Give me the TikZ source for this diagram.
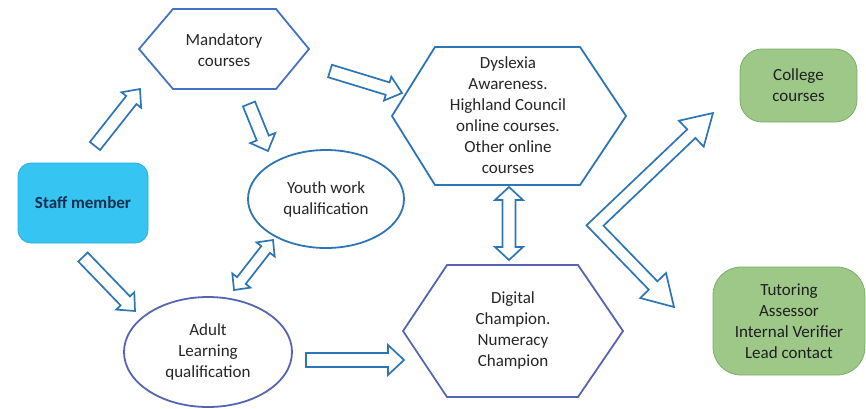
\documentclass[tikz,border=0pt]{standalone}
\usepackage{fontspec}
\setmainfont{Carlito}
\usetikzlibrary{calc,shapes.geometric}
\definecolor{txtc}{HTML}{262626}
\definecolor{navy}{HTML}{10304F}
\definecolor{skyfill}{HTML}{36C4F2}
\definecolor{skyline}{HTML}{2BAEDD}
\definecolor{arrblue}{HTML}{2E75B6}
\definecolor{hexblue}{HTML}{4472C4}
\definecolor{hexblueB}{HTML}{2E75B6}
\definecolor{purpblue}{HTML}{5565B0}
\definecolor{grfill}{HTML}{9DC888}
\definecolor{grline}{HTML}{7DAE68}
% block arrow: from, to, shaft half width, head half width, head length
\newcommand\blkarrow[5]{%
  \draw[blockarr] let \p1=(#1), \p2=(#2),
    \n1={atan2(\y2-\y1,\x2-\x1)}, \n2={veclen(\x2-\x1,\y2-\y1)} in
    ($(\p1)+({\n1+90}:#3)$) --
    ($(\p1)+(\n1:{\n2-#5})+({\n1+90}:#3)$) --
    ($(\p1)+(\n1:{\n2-#5})+({\n1+90}:#4)$) --
    (\p2) --
    ($(\p1)+(\n1:{\n2-#5})+({\n1-90}:#4)$) --
    ($(\p1)+(\n1:{\n2-#5})+({\n1-90}:#3)$) --
    ($(\p1)+({\n1-90}:#3)$) -- cycle;}
\newcommand\dblkarrow[5]{%
  \draw[blockarr] let \p1=(#1), \p2=(#2),
    \n1={atan2(\y2-\y1,\x2-\x1)}, \n2={veclen(\x2-\x1,\y2-\y1)} in
    (\p1) --
    ($(\p1)+(\n1:#5)+({\n1+90}:#4)$) --
    ($(\p1)+(\n1:#5)+({\n1+90}:#3)$) --
    ($(\p1)+(\n1:{\n2-#5})+({\n1+90}:#3)$) --
    ($(\p1)+(\n1:{\n2-#5})+({\n1+90}:#4)$) --
    (\p2) --
    ($(\p1)+(\n1:{\n2-#5})+({\n1-90}:#4)$) --
    ($(\p1)+(\n1:{\n2-#5})+({\n1-90}:#3)$) --
    ($(\p1)+(\n1:#5)+({\n1-90}:#3)$) --
    ($(\p1)+(\n1:#5)+({\n1-90}:#4)$) -- cycle;}
\begin{document}
\begin{tikzpicture}[x=1pt,y=1pt,
  lbl/.style={align=center, text=txtc, font=\fontsize{17}{21}\selectfont, inner sep=0pt},
  hexM/.style={draw=hexblue, line width=1.8pt, fill=white, line join=miter},
  hexD/.style={draw=hexblueB, line width=1.8pt, fill=white, line join=miter},
  hexC/.style={draw=purpblue, line width=1.8pt, fill=white, line join=miter},
  blockarr/.style={draw=arrblue, line width=1.7pt, fill=white, line join=miter},
  staffbox/.style={draw=skyline, line width=0.8pt, fill=skyfill, rounded corners=13pt,
    text=navy, font=\fontsize{17}{21}\selectfont\bfseries, align=center},
  greenbox/.style={draw=grline, line width=0.8pt, fill=grfill, align=center,
    text=black!88, font=\fontsize{17}{21}\selectfont, inner sep=0pt},
  ovalY/.style={ellipse, draw=hexblueB, line width=1.8pt, fill=white, align=center,
    text=txtc, font=\fontsize{17}{21}\selectfont, inner sep=0pt},
  ovalA/.style={ellipse, draw=purpblue, line width=1.8pt, fill=white, align=center,
    text=txtc, font=\fontsize{17}{21}\selectfont, inner sep=0pt}]
\useasboundingbox (0,0) rectangle (866,-408);

% Staff member
\node[staffbox, minimum width=130, minimum height=80] (staff) at (83,-203) {Staff member};

% Mandatory courses hexagon
\draw[hexM] (139,-49) -- (173,-9) -- (276,-9) -- (309,-49) -- (276,-89) -- (173,-89) -- cycle;
\node[lbl] (mand) at (224,-50) {Mandatory\\courses};

% Youth work ellipse
\node[ovalY, minimum width=156, minimum height=98] (youth) at (326,-199) {Youth work\\qualification};

% Adult learning ellipse
\node[ovalA, minimum width=168, minimum height=110] (adult) at (208,-352) {Adult\\Learning\\qualification};

% Dyslexia hexagon
\draw[hexD] (392,-116) -- (435,-47) -- (580,-47) -- (626,-116) -- (580,-185) -- (435,-185) -- cycle;
\node[lbl] (dys) at (508,-115) {Dyslexia\\Awareness.\\Highland Council\\online courses.\\Other online\\courses};

% Digital champion hexagon
\draw[hexC] (403,-331) -- (447,-265) -- (578,-265) -- (623,-331) -- (578,-397) -- (447,-397) -- cycle;
\node[lbl] (dig) at (513,-330) {Digital\\Champion.\\Numeracy\\Champion};

% Green boxes
\node[greenbox, minimum width=117, minimum height=73, rounded corners=22pt] (college) at (798.5,-85.5) {College\\courses};
\node[greenbox, minimum width=152, minimum height=108, rounded corners=28pt] (tutor) at (789,-321) {Tutoring\\Assessor\\Internal Verifier\\Lead contact};

% arrow end points
\coordinate (a1s) at (95,-146);  \coordinate (a1e) at (140,-89);
\coordinate (a2s) at (249,-104); \coordinate (a2e) at (268,-151);
\coordinate (a3s) at (330,-71);  \coordinate (a3e) at (402,-93);
\coordinate (a4s) at (83,-257);  \coordinate (a4e) at (135,-311);
\coordinate (a5s) at (234,-290); \coordinate (a5e) at (273,-240);
\coordinate (a6s) at (306,-360); \coordinate (a6e) at (404,-360);
\coordinate (a7s) at (509,-187); \coordinate (a7e) at (509,-260);

\blkarrow{a1s}{a1e}{6.5}{12.5}{14}
\blkarrow{a2s}{a2e}{6.5}{13.5}{14}
\blkarrow{a3s}{a3e}{6.5}{12.5}{15}
\blkarrow{a4s}{a4e}{6.5}{12.5}{14}
\dblkarrow{a5s}{a5e}{5.5}{11.5}{12}
\blkarrow{a6s}{a6e}{7}{15}{16}
\dblkarrow{a7s}{a7e}{6.5}{14}{13}

% V-shaped double arrow
\draw[blockarr] (586.5,-225.3) -- (687.2,-129.4) -- (678.9,-120.7) -- (713,-113)
  -- (703.7,-146.7) -- (695.4,-138.0) -- (603.5,-225.7) -- (657.4,-281.3)
  -- (666.0,-273.0) -- (674,-307) -- (640.2,-298.0) -- (648.8,-289.7) -- cycle;
\end{tikzpicture}
\end{document}
